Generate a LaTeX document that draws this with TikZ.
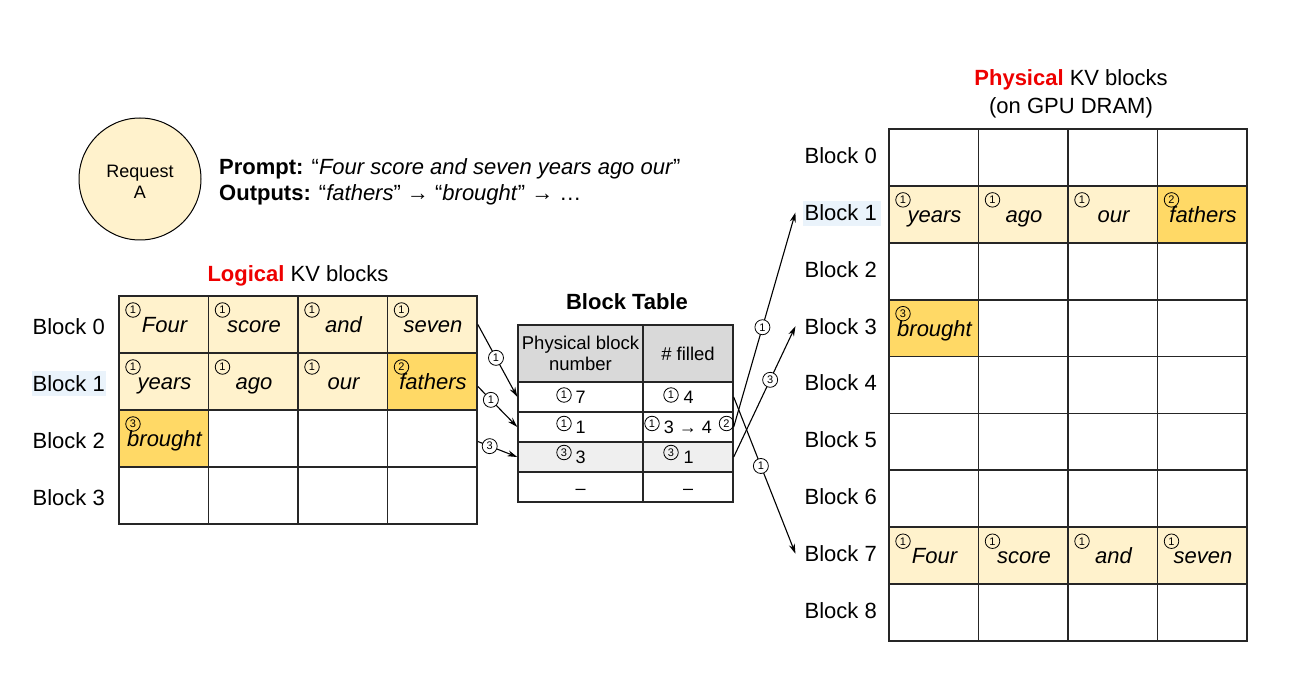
\documentclass[tikz,border=0pt]{standalone}
\usepackage{fontspec}
\setmainfont{Liberation Sans}
\usetikzlibrary{arrows.meta}
\definecolor{ly}{HTML}{FFF2CC}
\definecolor{gy}{HTML}{FFD966}
\definecolor{hdr}{HTML}{D9D9D9}
\definecolor{rowg}{HTML}{EFEFEF}
\definecolor{hl}{HTML}{EAF3FB}
\definecolor{redt}{HTML}{EE0000}
\definecolor{gridc}{HTML}{262626}
\newcommand\fsz[2]{\fontsize{#1}{#2}\selectfont}
\begin{document}
\begin{tikzpicture}[x=1pt,y=-1pt,
  cell/.style={draw=gridc,line width=1.7pt,minimum width=89.5pt,minimum height=57pt,inner sep=0pt,anchor=center},
  pcell/.style={cell,minimum height=56.89pt},
  tcell/.style={draw=gridc,line width=1.4pt,inner sep=0pt,anchor=center},
  word/.style={font=\fsz{22}{26}\itshape,anchor=base,inner sep=0pt},
  blab/.style={font=\fsz{22}{26},anchor=base east,inner sep=0pt},
  cnum/.style={circle,draw=black,line width=0.8pt,inner sep=0pt,minimum size=14.5pt,font=\fsz{11}{11}},
  lbl/.style={cnum,fill=white,minimum size=15pt},
  tdig/.style={font=\fsz{18}{21},anchor=base,inner sep=0pt},
  conn/.style={line width=1.1pt,-{Stealth[length=10pt,width=6pt]}},
  title/.style={font=\fsz{22}{26},anchor=base,inner sep=0pt}
]
\useasboundingbox (0,0) rectangle (1300,684);
\fill[white] (0,0) rectangle (1300,684);

% ---------- Request A ----------
\node[circle,draw=black,line width=1pt,fill=ly,minimum size=122pt,inner sep=0pt] (reqA) at (140,179) {};
\node[font=\fsz{18}{20.5},align=center,inner sep=0pt] (reqAtxt) at (140,182) {Request\\A};
\node[font=\fsz{22}{26},anchor=base west,inner sep=0pt] (prompt) at (219,174.5) {\textbf{Prompt:} “\textit{Four score and seven years ago our}”};
\node[font=\fsz{22}{26},anchor=base west,inner sep=0pt] (outputs) at (219,201) {\textbf{Outputs:} “\textit{fathers}” → “\textit{brought}” → …};

% ---------- Logical KV blocks ----------
\node[title] (ltitle) at (298,282) {\textcolor{redt}{\textbf{Logical}} KV blocks};
\fill[hl] (32,371) rectangle (106,396);
\foreach \r/\c/\f in {0/0/ly,0/1/ly,0/2/ly,0/3/ly,1/0/ly,1/1/ly,1/2/ly,1/3/gy,2/0/gy}
  \fill[\f] (119+89.5*\c,296+57*\r) rectangle (208.5+89.5*\c,353+57*\r);
\foreach \r in {0,1,2,3}{
  \node[blab] (LB\r) at (105,334.5+57*\r) {Block \r};
  \foreach \c in {0,1,2,3}
    \node[cell] (L-\r-\c) at (163.75+89.5*\c,324.5+57*\r) {};
}
\foreach \r/\c/\n/\w in {0/0/1/Four,0/1/1/score,0/2/1/and,0/3/1/seven,1/0/1/years,1/1/1/ago,1/2/1/our,1/3/2/fathers,2/0/3/brought}{
  \node[word] (LW-\r-\c) at (164.5+89.5*\c,332.5+57*\r) {\w};
  \node[cnum] (LN-\r-\c) at (133+89.5*\c,310+57*\r) {\n};
}

% ---------- Block Table ----------
\node[font=\fsz{22}{26}\bfseries,inner sep=0pt] (btitle) at (627,302) {Block Table};
\node[tcell,fill=hdr,minimum width=125pt,minimum height=57pt,align=center,font=\fsz{18.5}{21.7}] (T-0-0) at (580.5,353.5) {Physical block\\number};
\node[tcell,fill=hdr,minimum width=90pt,minimum height=57pt,font=\fsz{18.5}{21.7}] (T-0-1) at (688,353.5) {\# filled};
\foreach \r/\f in {1/white,2/white,3/rowg,4/white}{
  \node[tcell,fill=\f,minimum width=125pt,minimum height=30pt] (T-\r-0) at (580.5,367+30*\r) {};
  \node[tcell,fill=\f,minimum width=90pt,minimum height=30pt] (T-\r-1) at (688,367+30*\r) {};
}
% row 1
\node[cnum] (TN10) at (564,395) {1};
\node[tdig] (TD10) at (580.5,403.3) {7};
\node[cnum] (TN11) at (671,395) {1};
\node[tdig] (TD11) at (688.5,403.3) {4};
% row 2
\node[cnum] (TN20) at (564,423.5) {1};
\node[tdig] (TD20) at (580.5,433.3) {1};
\node[cnum] (TN21) at (652,423.5) {1};
\node[tdig] (TD21) at (688,433.3) {3 → 4};
\node[cnum] (TN21b) at (726.5,423.5) {2};
% row 3
\node[cnum] (TN30) at (564,452.5) {3};
\node[tdig] (TD30) at (580.5,463.3) {3};
\node[cnum] (TN31) at (671,452.5) {3};
\node[tdig] (TD31) at (688.5,463.3) {1};
% row 4
\node[tdig] (TD40) at (580.5,494.5) {–};
\node[tdig] (TD41) at (688,494.5) {–};

% ---------- Physical KV blocks ----------
\node[title] (ptitle1) at (1071,86) {\textcolor{redt}{\textbf{Physical}} KV blocks};
\node[title] (ptitle2) at (1071,113.5) {(on GPU DRAM)};
\fill[hl] (803,201) rectangle (881,226);
\foreach \r/\c/\f in {1/0/ly,1/1/ly,1/2/ly,1/3/gy,3/0/gy,7/0/ly,7/1/ly,7/2/ly,7/3/ly}
  \fill[\f] (889+89.5*\c,129+56.889*\r) rectangle (978.5+89.5*\c,185.889+56.889*\r);
\foreach \r in {0,...,8}{
  \node[blab] (PB\r) at (877,163.4+56.889*\r) {Block \r};
  \foreach \c in {0,1,2,3}
    \node[pcell] (P-\r-\c) at (933.75+89.5*\c,157.44+56.889*\r) {};
}
\foreach \r/\c/\n/\w in {1/0/1/years,1/1/1/ago,1/2/1/our,1/3/2/fathers,3/0/3/brought,7/0/1/Four,7/1/1/score,7/2/1/and,7/3/1/seven}{
  \node[word] (PW-\r-\c) at (934.5+89.5*\c,165.5+56.889*\r) {\w};
  \node[cnum] (PN-\r-\c) at (903+89.5*\c,143+56.889*\r) {\n};
}

% ---------- connectors ----------
\coordinate (tg1) at ([xshift=-9pt]PB1.west);
\coordinate (tg3) at ([xshift=-9pt]PB3.west);
\coordinate (tg7) at ([xshift=-9pt]PB7.west);
\draw[conn] (L-0-3.east) -- node[lbl,pos=0.46] {1} (T-1-0.west);
\draw[conn] ([yshift=-5pt]L-1-3.east) -- node[lbl,pos=0.33] {1} (T-2-0.west);
\draw[conn] ([yshift=-3pt]L-2-3.east) -- node[lbl,pos=0.3] {3} (T-3-0.west);
\draw[conn] (T-1-1.east) -- node[lbl,pos=0.44] {1} (tg7);
\draw[conn] (T-2-1.east) -- node[lbl,pos=0.465] {1} (tg1);
\draw[conn] (T-3-1.east) -- node[lbl,pos=0.59] {3} (tg3);
\end{tikzpicture}
\end{document}
